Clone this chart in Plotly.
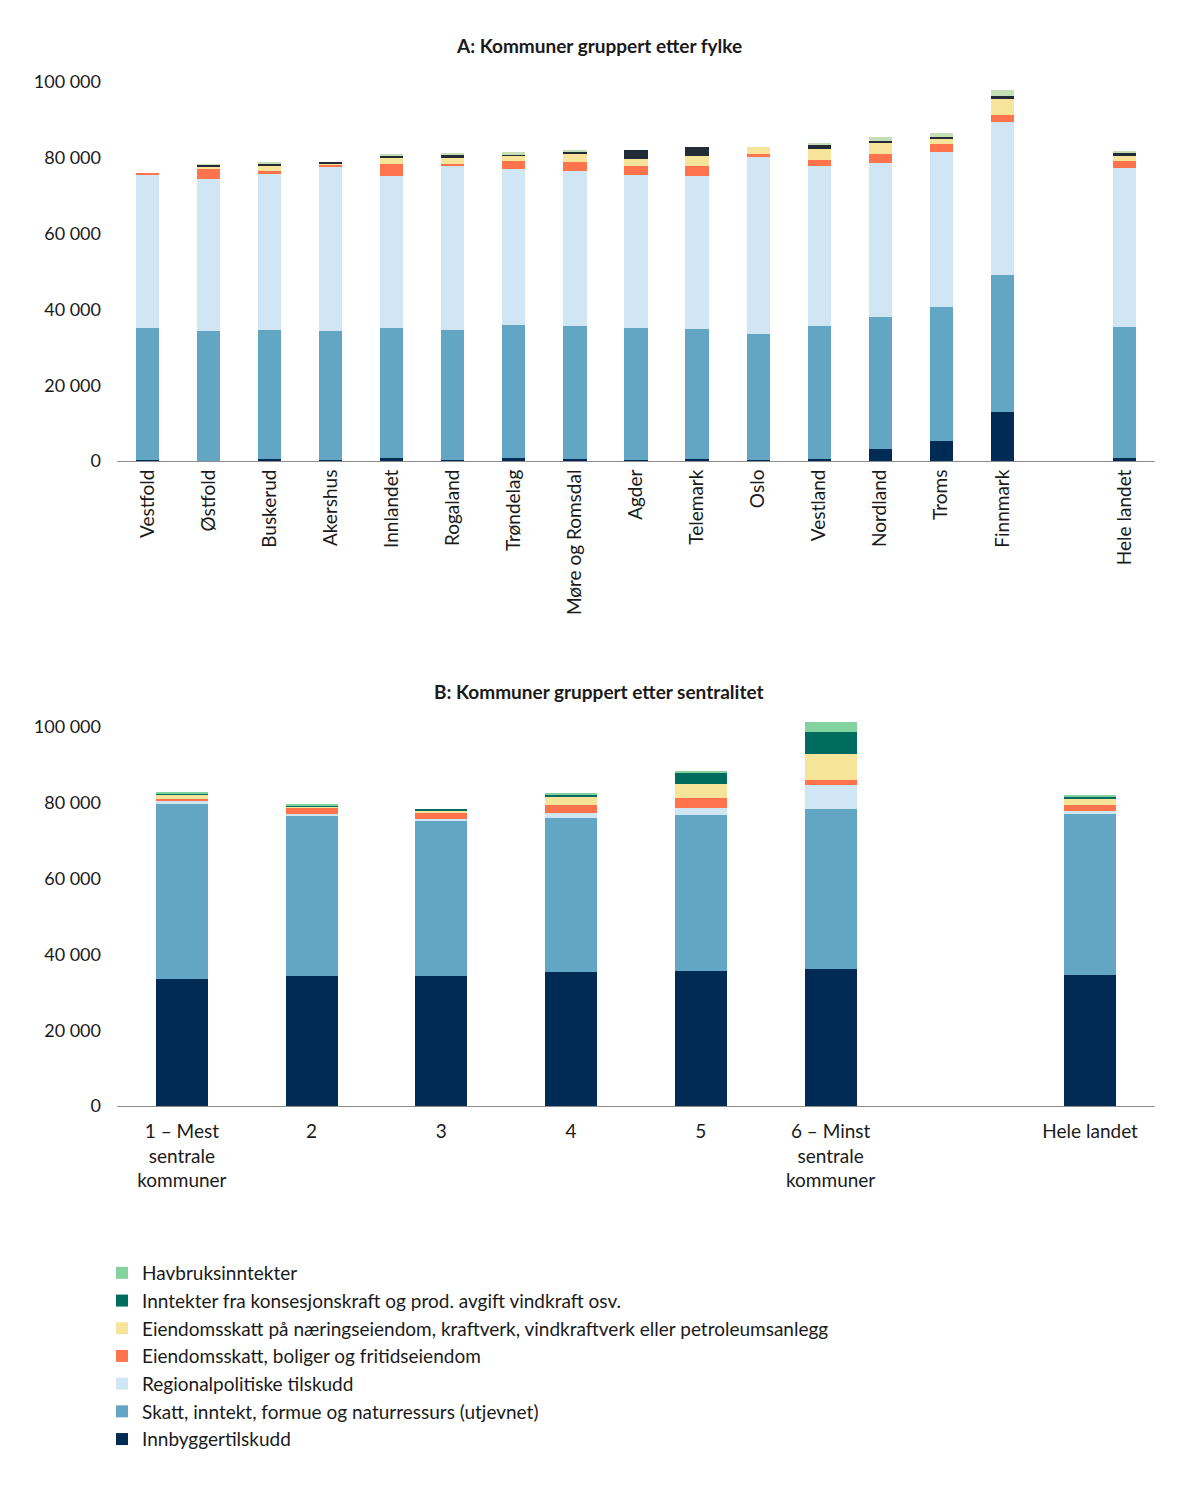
import plotly.graph_objects as go
from plotly.subplots import make_subplots

# Panel A: kommuner gruppert etter fylke (kroner per innbygger)
fylker = ["Vestfold", "Østfold", "Buskerud", "Akershus", "Innlandet", "Rogaland",
          "Trøndelag", "Møre og Romsdal", "Agder", "Telemark", "Oslo", "Vestland",
          "Nordland", "Troms", "Finnmark", "Hele landet"]
a_navy = [200, 100, 400, 200, 700, 300, 800, 600, 300, 400, 200, 600, 3100, 5300, 12900, 800]
a_medium = [34800, 34300, 34200, 34200, 34300, 34300, 35100, 35100, 34700, 34400, 33200, 35000, 34900, 35300, 36100, 34500]
a_light = [40600, 40100, 41000, 43400, 40300, 43200, 41100, 40900, 40500, 40500, 46700, 42100, 40700, 41000, 40500, 42100]
a_orange = [300, 2500, 1000, 400, 3100, 600, 2200, 2400, 2200, 2500, 900, 1800, 2300, 2000, 1800, 1700]
a_yellow = [0, 900, 1100, 400, 1500, 1600, 1500, 2200, 2000, 2600, 1800, 2700, 2800, 1700, 4300, 1500]
a_dark = [0, 400, 1000, 300, 900, 1000, 300, 200, 2300, 2400, 0, 1400, 600, 300, 600, 800]
a_green = [0, 100, 100, 0, 100, 200, 500, 600, 0, 0, 0, 300, 1100, 900, 1800, 300]

# Panel B: kommuner gruppert etter sentralitet
sentralitet = ["1 – Mest<br>sentrale<br>kommuner", "2", "3", "4", "5",
               "6 – Minst<br>sentrale<br>kommuner", "Hele landet"]
innbyggertilskudd = [33400, 34300, 34400, 35400, 35600, 36200, 34500]
skatt = [46600, 42500, 40900, 40700, 41200, 42200, 42500]
regionalpolitiske = [400, 200, 300, 1200, 1900, 6300, 700]
eiendomsskatt_bolig = [700, 1500, 1800, 2100, 2600, 1300, 1600]
eiendomsskatt_naering = [1300, 700, 700, 2100, 3700, 6900, 1800]
konsesjonskraft = [200, 100, 300, 700, 2900, 5800, 600]
havbruk = [100, 300, 0, 400, 600, 2600, 300]

series_names = [
    "Innbyggertilskudd",
    "Skatt, inntekt, formue og naturressurs (utjevnet)",
    "Regionalpolitiske tilskudd",
    "Eiendomsskatt, boliger og fritidseiendom",
    "Eiendomsskatt på næringseiendom, kraftverk, vindkraftverk eller petroleumsanlegg",
    "Inntekter fra konsesjonskraft og prod. avgift vindkraft osv.",
    "Havbruksinntekter",
]

colors_a = ["#002b55", "#62a6c4", "#d1e6f5", "#ff734d", "#f7e49b", "#232b36", "#c6deb5"]
colors_b = ["#002b55", "#62a6c4", "#d1e6f5", "#ff734d", "#f7e49b", "#006b5f", "#82d39e"]

FONT = "Lato"
FS = 19
YFS = 18
TXT = "#1a1a1a"

fig = make_subplots(rows=2, cols=1)

a_values = [a_navy, a_medium, a_light, a_orange, a_yellow, a_dark, a_green]
for vals, col, name in zip(a_values, colors_a, series_names):
    fig.add_trace(go.Bar(x=fylker, y=vals, name=name, marker_color=col,
                         marker_line_width=0, width=0.38, showlegend=False),
                  row=1, col=1)

b_values = [innbyggertilskudd, skatt, regionalpolitiske, eiendomsskatt_bolig,
            eiendomsskatt_naering, konsesjonskraft, havbruk]
for i, (vals, col, name) in enumerate(zip(b_values, colors_b, series_names)):
    fig.add_trace(go.Bar(x=sentralitet, y=vals, name=name, marker_color=col,
                         marker_line_width=0, width=0.40, legendgroup=f"g{i}",
                         legendrank=100 - i),
                  row=2, col=1)

cats_a = fylker[:-1] + [" "] + ["Hele landet"]
cats_b = sentralitet[:-1] + [" "] + ["Hele landet"]

tickvals = [0, 20000, 40000, 60000, 80000, 100000]
ticktext = ["0", "20 000", "40 000", "60 000", "80 000", "100 000"]

# page is offset by the 8px body margin, so positions below are page px - 8
H = 1488
W = 1198
L, R = 109, 51
PW = W - L - R

yax = dict(range=[0, 103000], tickvals=tickvals, ticktext=ticktext, showgrid=False,
           zeroline=False, ticks="", showline=False, tickfont=dict(size=YFS),
           automargin=False, ticklabelstandoff=15)

fig.update_layout(
    width=W, height=H,
    barmode="stack",
    plot_bgcolor="white", paper_bgcolor="white",
    margin=dict(l=L, r=R, t=0, b=0, autoexpand=False),
    font=dict(family=FONT, size=FS, color=TXT),
    xaxis=dict(domain=[0, 1], categoryorder="array", categoryarray=cats_a,
               tickangle=-90, showline=True, linecolor="#8c8c8c", linewidth=1,
               ticks="", showgrid=False, tickfont=dict(size=FS), automargin=False),
    yaxis=dict(domain=[1 - 453 / H, 1 - 62.6 / H], **yax),
    xaxis2=dict(domain=[0, 1], categoryorder="array", categoryarray=cats_b,
                tickangle=0, showline=True, linecolor="#8c8c8c", linewidth=1,
                ticks="", showgrid=False, tickfont=dict(size=FS), automargin=False,
                ticklabelstandoff=8),
    yaxis2=dict(domain=[1 - 1098 / H, 1 - 707.6 / H], **yax),
    legend=dict(xref="paper", yref="paper", x=(94 - L) / PW, y=1 - 1246 / H,
                xanchor="left", yanchor="top", traceorder="grouped",
                tracegroupgap=0, font=dict(size=FS, color=TXT)),
    annotations=[
        dict(text="<b>A: Kommuner gruppert etter fylke</b>", xref="paper", yref="paper",
             x=(591 - L) / PW, y=1 - 38 / H, showarrow=False, xanchor="center",
             yanchor="middle", font=dict(size=FS, color=TXT)),
        dict(text="<b>B: Kommuner gruppert etter sentralitet</b>", xref="paper", yref="paper",
             x=(591 - L) / PW, y=1 - 683 / H, showarrow=False, xanchor="center",
             yanchor="middle", font=dict(size=FS, color=TXT)),
    ],
)

fig.write_html("out.html")
